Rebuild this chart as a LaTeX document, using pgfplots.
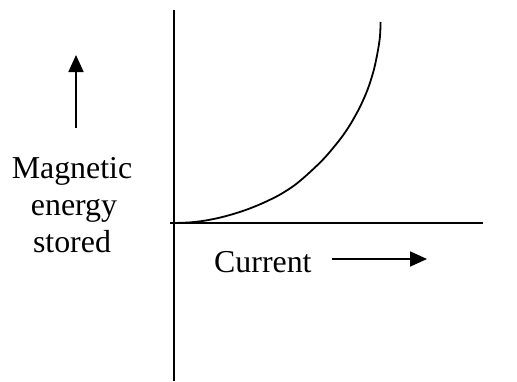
\documentclass[border=0pt]{standalone}
\usepackage{pgfplots}
\pgfplotsset{compat=1.18}
\usepackage{fontspec}
\setmainfont{Liberation Serif}
\usetikzlibrary{arrows.meta}
\begin{document}
\begin{tikzpicture}
\begin{axis}[
  scale only axis, width=517bp, height=381bp,
  xmin=0, xmax=517, ymin=0, ymax=381, y dir=reverse,
  hide axis, clip=false,
]
\path (axis cs:0,0) rectangle (axis cs:517,381);
% vertical axis
\addplot[black, no marks, line width=1.8bp] coordinates {(174,10) (174,381)};
% horizontal axis
\addplot[black, no marks, line width=1.8bp] coordinates {(170,223) (483,223)};
% curve
\addplot[black, no marks, smooth, tension=0.5, line width=1.8bp] coordinates {
(174,223) (190,222.4) (205,220.6) (220,217.6) (235,213.5) (250,208.4) (265,202.1)
(280,194.6) (295,184.9) (310,172.1) (325,157.4) (340,139.4) (350,124.9)
(360,106.9) (368,88.5) (374,69.3) (378,50.1) (380,36.1) (380.6,22)};
% arrows
\addplot[black, no marks, line width=1.8bp, -{Triangle[length=17bp,width=15bp]}] coordinates {(76,128) (76,55)};
\addplot[black, no marks, line width=1.8bp, -{Triangle[length=17bp,width=15bp]}] coordinates {(332,259) (427,259)};
% labels
\node[anchor=base, font=\fontsize{32}{37}\selectfont, inner sep=0pt] at (axis cs:72,178) {Magnetic};
\node[anchor=base, font=\fontsize{32}{37}\selectfont, inner sep=0pt] at (axis cs:74,215) {energy};
\node[anchor=base, font=\fontsize{32}{37}\selectfont, inner sep=0pt] at (axis cs:72,252) {stored};
\node[anchor=base west, font=\fontsize{32}{37}\selectfont, inner sep=0pt] at (axis cs:214,272) {Current};
\end{axis}
\end{tikzpicture}
\end{document}
